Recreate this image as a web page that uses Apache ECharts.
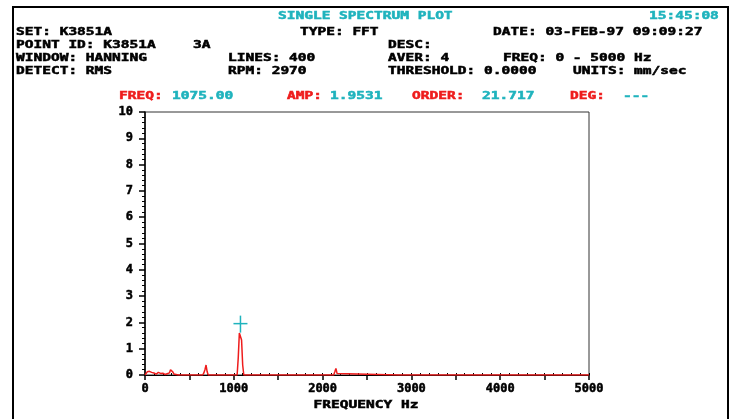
<!DOCTYPE html>
<html>
<head>
<meta charset="utf-8">
<script src="https://cdn.jsdelivr.net/npm/echarts@6/dist/echarts.min.js"></script>
<style>
html,body{margin:0;padding:0;background:#fff;}
#chart{width:733px;height:419px;}
</style>
</head>
<body>
<div id="chart"></div>
<script>
// ---- data ----
const freqHz = [0, 12.5, 25, 37.5, 50, 62.5, 75, 87.5, 100, 112.5, 125, 137.5, 150, 162.5, 175, 187.5, 200, 212.5, 225, 237.5, 250, 262.5, 275, 287.5, 300, 312.5, 325, 337.5,
  375, 387.5, 400, 450, 462.5, 475,
  650, 662.5, 675, 687.5, 700, 712.5,
  925, 937.5, 950,
  1037.5, 1050, 1062.5, 1075, 1087.5, 1100, 1112.5,
  1187.5, 1200, 1212.5, 1400, 1412.5, 1425,
  1737.5, 1750, 1762.5, 1800, 1812.5, 1825, 1850, 1862.5, 1875, 1900, 1912.5, 1925,
  2125, 2137.5, 2150, 2162.5, 2175,
  2850, 2862.5, 2875, 3212.5, 3225, 3237.5,
  5000];
const ampMmSec = [0, 0.05, 0.12, 0.19, 0.14, 0.08, 0.1, 0.06, 0.08, 0.04, 0.03, 0.05, 0.1, 0.09, 0.06, 0.03, 0.07, 0.05, 0.02, 0.03, 0.05, 0.02, 0.08, 0.2, 0.27, 0.12, 0.04, 0,
  0, 0.04, 0, 0, 0.03, 0,
  0, 0.08, 0.2, 0.38, 0.12, 0,
  0, 0.04, 0,
  0, 0.65, 1.6, 1.65, 1.33, 0.38, 0,
  0, 0.03, 0, 0, 0.02, 0,
  0, 0.03, 0, 0, 0.03, 0, 0, 0.03, 0, 0, 0.03, 0,
  0, 0.12, 0.25, 0.06, 0,
  0, 0.03, 0, 0, 0.04, 0,
  0];
const markerFreq = [1075.00];
const markerAmp = [1.9531];
const yTicks = [0, 1, 2, 3, 4, 5, 6, 7, 8, 9, 10];
const xTickLabels = [0, 1000, 2000, 3000, 4000, 5000];

// ---- styles ----
const RED = '#ee1c1c';
const CYAN = '#1fb3bd';
const FONT = 'bold 10px "DejaVu Sans Mono"';
const SX = 1.45;

function txt(x, y, text, color, align) {
  const c = color || '#000';
  return {
    type: 'text', x: x, y: y, scaleX: SX, scaleY: 1,
    style: { text: text, font: FONT, fill: c, stroke: c, lineWidth: 0.5, textAlign: align || 'left', textVerticalAlign: 'middle' },
    z: 10
  };
}

const lineData = freqHz.map((f, i) => [f, ampMmSec[i]]);
const markData = markerFreq.map((f, i) => [f, markerAmp[i]]);

const axisLabelStyle = {
  color: '#000', fontFamily: 'DejaVu Sans Mono', fontWeight: 'bold', fontSize: 12,
  textBorderColor: '#000', textBorderWidth: 0.5
};

const chart = echarts.init(document.getElementById('chart'), null, { renderer: 'canvas' });
chart.setOption({
  animation: false,
  backgroundColor: '#fff',
  grid: { left: 145, top: 112, right: 144, bottom: 44, show: true, borderColor: '#333', borderWidth: 1, backgroundColor: 'transparent' },
  xAxis: [{
    type: 'value', min: 0, max: 5000, interval: 500,
    axisLine: { show: true, onZero: false, lineStyle: { color: '#000', width: 1 } },
    axisTick: { show: true, length: 5, inside: false, lineStyle: { color: '#000', width: 1.5 } },
    splitLine: { show: false },
    axisLabel: Object.assign({
      show: true, margin: 8,
      formatter: v => (xTickLabels.indexOf(v) >= 0 ? String(v) : '')
    }, axisLabelStyle)
  }, {
    type: 'value', min: 0, max: 5000, interval: 100, position: 'bottom', offset: 0,
    axisLine: { show: false },
    axisTick: { show: true, length: 2, inside: true, lineStyle: { color: '#000', width: 1 } },
    axisLabel: { show: false },
    splitLine: { show: false }
  }],
  yAxis: {
    type: 'value', min: 0, max: 10, interval: 1,
    axisLine: { show: true, onZero: false, lineStyle: { color: '#000', width: 1.5 } },
    axisTick: { show: true, length: 6, inside: false, lineStyle: { color: '#000', width: 1.5 } },
    minorTick: { show: true, splitNumber: 5, length: 3, lineStyle: { color: '#000', width: 1 } },
    splitLine: { show: false },
    axisLabel: Object.assign({
      show: true, margin: 12,
      formatter: v => (yTicks.indexOf(v) >= 0 ? String(v) : '')
    }, axisLabelStyle)
  },
  series: [{
    type: 'line', xAxisIndex: 0, data: lineData, symbol: 'none',
    lineStyle: { color: RED, width: 1.5 }, z: 3
  }, {
    type: 'custom', xAxisIndex: 0, data: markData, z: 4,
    renderItem: function (params, api) {
      const p = api.coord([api.value(0), api.value(1)]);
      return {
        type: 'group', children: [
          { type: 'line', shape: { x1: p[0] - 7, y1: p[1], x2: p[0] + 7, y2: p[1] }, style: { stroke: CYAN, lineWidth: 1.5 } },
          { type: 'line', shape: { x1: p[0], y1: p[1] - 8, x2: p[0], y2: p[1] + 9 }, style: { stroke: CYAN, lineWidth: 1.5 } }
        ]
      };
    }
  }],
  graphic: [
    { type: 'line', shape: { x1: 13, y1: 7, x2: 13, y2: 419 }, style: { stroke: '#000', lineWidth: 2 } },
    { type: 'line', shape: { x1: 12, y1: 7, x2: 729, y2: 7 }, style: { stroke: '#000', lineWidth: 2 } },
    { type: 'line', shape: { x1: 728, y1: 6, x2: 728, y2: 419 }, style: { stroke: '#000', lineWidth: 2 } },
    txt(278, 16, 'SINGLE SPECTRUM PLOT', CYAN),
    txt(649, 16, '15:45:08', CYAN),
    txt(16, 32, 'SET: K3851A'),
    txt(300, 32, 'TYPE: FFT'),
    txt(493, 32, 'DATE: 03-FEB-97 09:09:27'),
    txt(16, 45, 'POINT ID: K3851A'),
    txt(193, 45, '3A'),
    txt(388, 45, 'DESC:'),
    txt(16, 58, 'WINDOW: HANNING'),
    txt(228, 58, 'LINES: 400'),
    txt(388, 58, 'AVER: 4'),
    txt(503, 58, 'FREQ: 0 - 5000 Hz'),
    txt(16, 71, 'DETECT: RMS'),
    txt(228, 71, 'RPM: 2970'),
    txt(388, 71, 'THRESHOLD: 0.0000'),
    txt(573, 71, 'UNITS: mm/sec'),
    txt(119, 96, 'FREQ:', RED),
    txt(172, 96, '1075.00', CYAN),
    txt(287, 96, 'AMP:', RED),
    txt(330, 96, '1.9531', CYAN),
    txt(412, 96, 'ORDER:', RED),
    txt(482, 96, '21.717', CYAN),
    txt(570, 96, 'DEG:', RED),
    txt(623, 96, '---', CYAN),
    txt(366, 405, 'FREQUENCY Hz', '#000', 'center')
  ]
});
</script>
</body>
</html>
